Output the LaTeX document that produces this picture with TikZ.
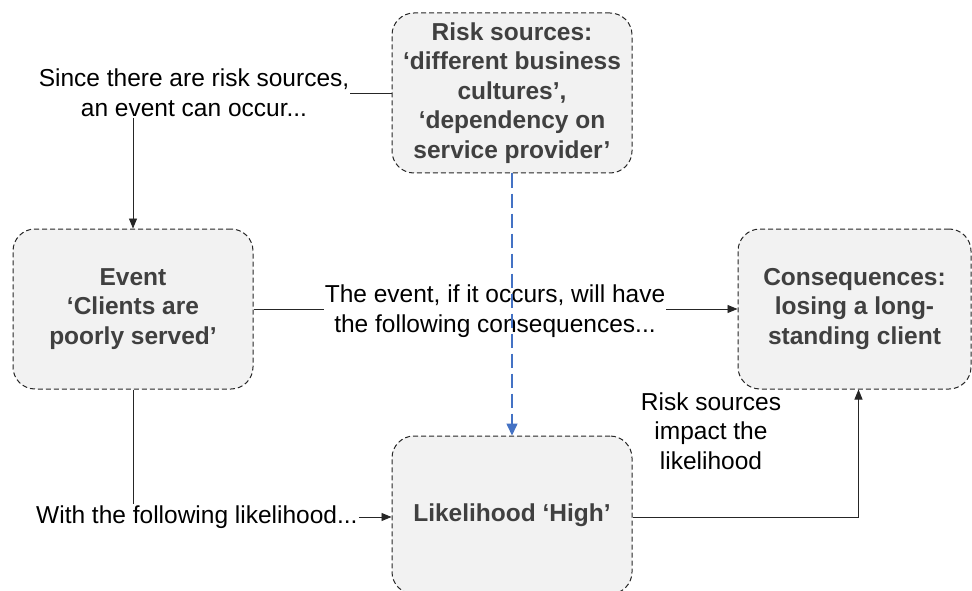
\documentclass[tikz,border=0pt]{standalone}
\usepackage{fontspec}
\setmainfont{Liberation Sans}
\usetikzlibrary{arrows.meta}
\definecolor{boxfill}{HTML}{F2F2F2}
\definecolor{boxtext}{HTML}{404040}
\definecolor{boxedge}{HTML}{262626}
\definecolor{linkblue}{HTML}{4472C4}
\begin{document}
\begin{tikzpicture}[x=1pt,y=-1pt,
  riskbox/.style={draw=boxedge, fill=boxfill, line width=1pt,
    dash pattern=on 5pt off 3pt, rounded corners=22pt,
    minimum width=240pt, minimum height=160pt, align=center,
    text=boxtext, font=\fontsize{24.5}{29.6}\selectfont\bfseries, inner sep=1pt},
  note/.style={align=center, font=\fontsize{24.5}{29.6}\selectfont, inner sep=1pt},
  link/.style={draw=black!85, line width=0.9pt},
  arr/.style={link, -{Triangle[length=10pt,width=8pt]}},
  bluearr/.style={draw=linkblue, line width=1.6pt, dash pattern=on 14pt off 6pt,
    -{Triangle[length=12pt,width=11pt]}}]
\useasboundingbox (0,0) rectangle (972,591);

% boxes
\node[riskbox] (risk) at (512,93) {Risk sources:\\ ‘different business\\ cultures’,\\ ‘dependency on\\ service provider’};
\node[riskbox] (event) at (133,309) {Event\\ ‘Clients are\\ poorly served’};
\node[riskbox, minimum width=233pt] (cons) at (854.5,309) {Consequences:\\ losing a long-\\ standing client};
\node[riskbox, minimum height=158pt] (lik) at (512,515) {Likelihood ‘High’};

% free-standing notes
\node[note] (since) at (194,93) {Since there are risk sources,\\ an event can occur...};
\node[note] (occurs) at (495,311) {The event, if it occurs, will have\\ the following consequences...};
\node[note, anchor=west] (withlik) at (35,517) {With the following likelihood...};
\node[note] (impact) at (711,431) {Risk sources\\ impact the\\ likelihood};

% connectors
\draw[link] (since.east) -- (risk.west |- since.east);
\draw[arr] (event.north |- since.south) -- (event.north);
\draw[link] (event.east) -- (occurs.west |- event.east);
\draw[arr] (occurs.east |- cons.west) -- (cons.west);
\draw[link] (event.south) -- (event.south |- withlik.north);
\draw[arr] (withlik.east) -- (lik.west |- withlik.east);
\draw[arr] (lik.east |- withlik.east) -| ([xshift=4pt]cons.south);
\draw[bluearr] (risk.south) -- (lik.north);
\end{tikzpicture}
\end{document}
